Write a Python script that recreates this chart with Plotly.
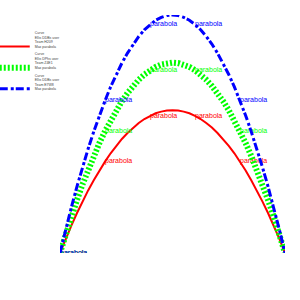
import plotly.graph_objects as go

x_vals = [0, 0.25, 0.5, 0.75, 1, 1.25, 1.5, 1.75, 2, 2.25, 2.5, 2.75, 3, 3.25, 3.5, 3.75,
          4, 4.25, 4.5, 4.75, 5, 5.25, 5.5, 5.75, 6, 6.25, 6.5, 6.75, 7, 7.25, 7.5, 7.75,
          8, 8.25, 8.5, 8.75, 9, 9.25, 9.5, 9.75, 10]

red_vals = [0, 5.9, 11.4, 16.7, 21.6, 26.3, 30.6, 34.7, 38.4, 41.9, 45.0, 47.9, 50.4, 52.7,
            54.6, 56.3, 57.6, 58.7, 59.4, 59.9, 60.0, 59.9, 59.4, 58.7, 57.6, 56.3, 54.6,
            52.7, 50.4, 47.9, 45.0, 41.9, 38.4, 34.7, 30.6, 26.3, 21.6, 16.7, 11.4, 5.9, 0]

green_vals = [0, 7.8, 15.2, 22.2, 28.8, 35.0, 40.8, 46.2, 51.2, 55.8, 60.0, 63.8, 67.2, 70.2,
              72.8, 75.0, 76.8, 78.2, 79.2, 79.8, 80.0, 79.8, 79.2, 78.2, 76.8, 75.0, 72.8,
              70.2, 67.2, 63.8, 60.0, 55.8, 51.2, 46.2, 40.8, 35.0, 28.8, 22.2, 15.2, 7.8, 0]

blue_vals = [0, 9.8, 19.0, 27.8, 36.0, 43.8, 51.0, 57.8, 64.0, 69.8, 75.0, 79.8, 84.0, 87.8,
             91.0, 93.8, 96.0, 97.8, 99.0, 99.8, 100.0, 99.8, 99.0, 97.8, 96.0, 93.8, 91.0,
             87.8, 84.0, 79.8, 75.0, 69.8, 64.0, 57.8, 51.0, 43.8, 36.0, 27.8, 19.0, 9.8, 0]

label_x = [0, 2, 4, 6, 8]
label_text = "parabola"

series_names = [
    "Curve<br>Ellis DDBs user<br>Team H209<br>Max parabola",
    "Curve<br>Ellis DPhs user<br>Team Z4E1<br>Max parabola",
    "Curve<br>Ellis DDBs user<br>Team E7W8<br>Max parabola",
]

texts = [label_text if xv in label_x else "" for xv in x_vals]

styles = [
    dict(color="#ff0000", width=2, dash="solid"),
    dict(color="#00ff00", width=6, dash="2px,2px"),
    dict(color="#0000ff", width=3, dash="8px,3px,3px,2px"),
]

fig = go.Figure()
for name, ys, st in zip(series_names, [red_vals, green_vals, blue_vals], styles):
    fig.add_trace(go.Scatter(
        x=x_vals, y=ys, name=name, mode="lines+text",
        text=texts, textposition="middle right",
        textfont=dict(size=7, color=st["color"], family="Liberation Sans"),
        line=dict(color=st["color"], width=st["width"], dash=st["dash"]),
    ))

fig.update_layout(
    width=300, height=300,
    margin=dict(l=60, r=15, t=15, b=47, autoexpand=False),
    paper_bgcolor="white", plot_bgcolor="white",
    xaxis=dict(range=[0, 10], visible=False),
    yaxis=dict(range=[0, 100], visible=False),
    showlegend=True,
    legend=dict(
        x=-0.29, xanchor="left", y=0.962, yanchor="top",
        font=dict(size=3.5, color="#444", family="Liberation Sans"),
        valign="bottom", bgcolor="rgba(0,0,0,0)", itemwidth=30,
    ),
)

fig.write_html("out.html")
